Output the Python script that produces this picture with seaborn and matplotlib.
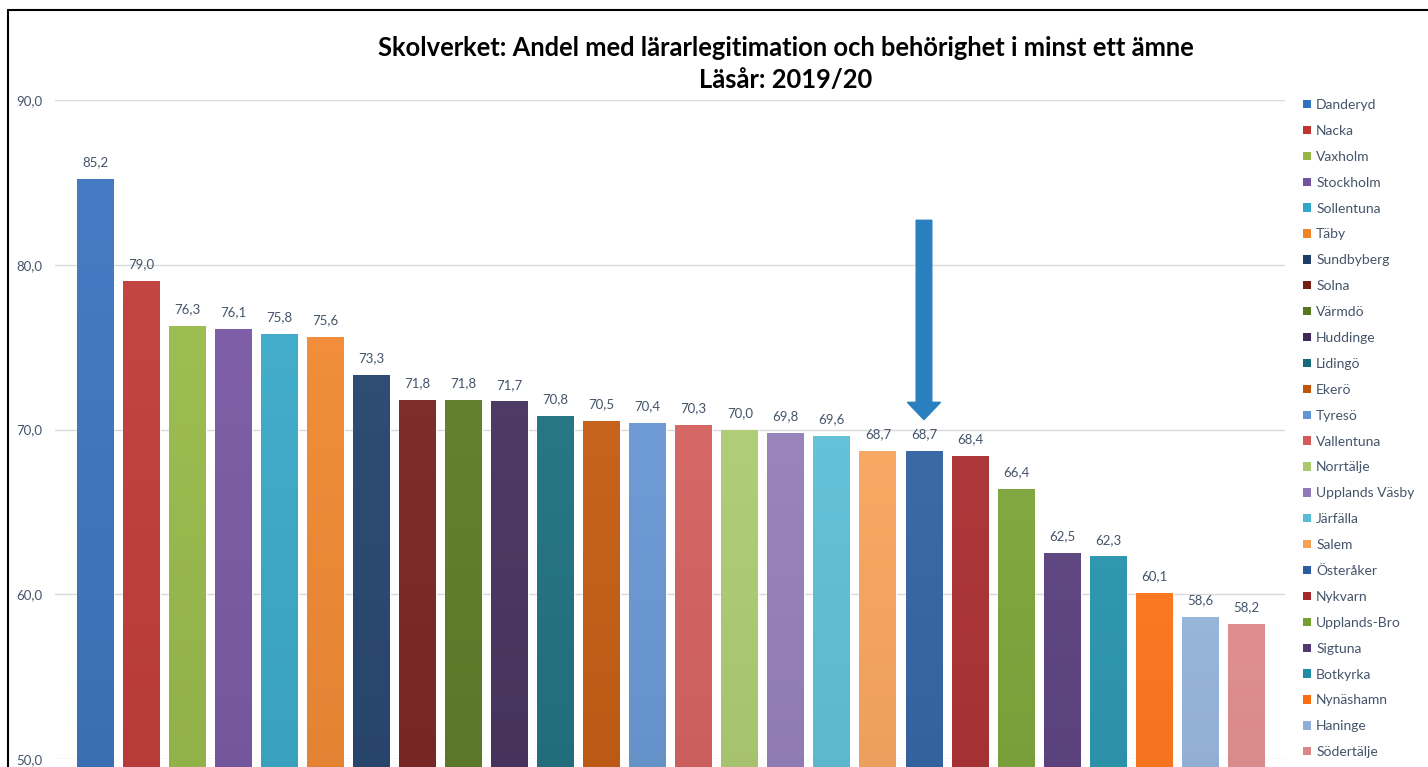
import numpy as np
import matplotlib
matplotlib.use("Agg")
import matplotlib.pyplot as plt
import matplotlib.colors as mcolors
from matplotlib.patches import Patch
from matplotlib.lines import Line2D
import seaborn as sns

# data
kommuner = ["Danderyd", "Nacka", "Vaxholm", "Stockholm", "Sollentuna", "Täby",
            "Sundbyberg", "Solna", "Värmdö", "Huddinge", "Lidingö", "Ekerö",
            "Tyresö", "Vallentuna", "Norrtälje", "Upplands Väsby", "Järfälla",
            "Salem", "Österåker", "Nykvarn", "Upplands-Bro", "Sigtuna",
            "Botkyrka", "Nynäshamn", "Haninge", "Södertälje"]
andel = [85.2, 79.0, 76.3, 76.1, 75.8, 75.6, 73.3, 71.8, 71.8, 71.7, 70.8, 70.5,
         70.4, 70.3, 70.0, 69.8, 69.6, 68.7, 68.7, 68.4, 66.4, 62.5, 62.3, 60.1,
         58.6, 58.2]
farger = ["#3470bd", "#bf3432", "#94b843", "#7352a0", "#32a6c6", "#f0842a",
          "#1d3d68", "#741b18", "#56761f", "#3e2a58", "#166a7a", "#c25508",
          "#6293d2", "#d25a58", "#a9c96c", "#9079b8", "#58bcd4", "#f7a156",
          "#2a5d9f", "#a6272a", "#76a030", "#523777", "#1f8ea8", "#fb6d10",
          "#8eaed6", "#dc8586"]
yticks = [50, 60, 70, 80, 90]
markerad = "Österåker"

text_farg = "#44546a"

sns.set_theme(style="white")
plt.rcParams["font.family"] = ["Lato", "DejaVu Sans"]

fig = plt.figure(figsize=(14.28, 7.67), dpi=100)
ax = fig.add_axes([55 / 1428, 1 - 759 / 767, (1285 - 55) / 1428, (759 - 100) / 767])

sns.barplot(x=kommuner, y=andel, hue=kommuner, palette=farger, width=0.8,
            legend=False, ax=ax, saturation=1)

# vertical gradient in each bar, like the Excel style
for patch, c in zip(ax.patches, farger):
    rgb = np.array(mcolors.to_rgb(c))
    top = rgb + (1 - rgb) * 0.08
    bot = rgb * 0.84
    t = np.linspace(0, 1, 64)[:, None]
    grad = (top[None, :] * (1 - t) + bot[None, :] * t)[:, None, :]
    x0, y0 = patch.get_x(), patch.get_y()
    w, h = patch.get_width(), patch.get_height()
    im = ax.imshow(grad, extent=[x0, x0 + w, y0, y0 + h], aspect="auto",
                   origin="upper", zorder=patch.get_zorder() + 0.1)
    im.set_clip_path(patch)

ax.set_xlim(-0.87, 25.84)
ax.set_ylim(50, 90)

for i, v in enumerate(andel):
    ax.annotate(f"{v:.1f}".replace(".", ","), (i, v), xytext=(0, 12),
                textcoords="offset points", ha="center", va="center",
                fontsize=9.5, color=text_farg, zorder=5)

ax.set_yticks(yticks)
ax.set_yticklabels([f"{t:.1f}".replace(".", ",") for t in yticks],
                   fontsize=9.5, color=text_farg)
ax.tick_params(axis="y", length=0, pad=9)
ax.set_xticks([])
ax.set_xlabel("")
ax.set_ylabel("")
ax.grid(axis="y", color="#d9d9d9", linewidth=1)
ax.set_axisbelow(True)
sns.despine(ax=ax, left=True, bottom=True)

# arrow pointing at Österåker
idx = kommuner.index(markerad)
ax.arrow(idx, 82.7, 0, -12.1, width=0.34, head_width=0.72, head_length=1.05,
         length_includes_head=True, color="#2a80be", zorder=6)

fig.text(0.55, 1 - 48 / 767, "Skolverket: Andel med lärarlegitimation och behörighet i minst ett ämne",
         ha="center", va="center", fontsize=18.4, fontweight="bold", color="black")
fig.text(0.55, 1 - 80 / 767, "Läsår: 2019/20", ha="center", va="center",
         fontsize=18.4, fontweight="bold", color="black")

handles = [Patch(facecolor=c, edgecolor="none") for c in farger]
fig.legend(handles, kommuner, loc="upper left", bbox_to_anchor=(1303 / 1428, 1 - 99 / 767),
           frameon=False, fontsize=10, handlelength=0.55, handleheight=0.55,
           handletextpad=0.4, labelspacing=1.0, labelcolor=text_farg,
           borderaxespad=0, borderpad=0)

# frame of the chart area (left and top edges are visible)
fig.add_artist(Line2D([8 / 1428, 8 / 1428], [0, 1 - 10 / 767], color="black", lw=1.5))
fig.add_artist(Line2D([8 / 1428, 1], [1 - 10 / 767, 1 - 10 / 767], color="black", lw=1.5))

fig.savefig("out.png", dpi=100)
